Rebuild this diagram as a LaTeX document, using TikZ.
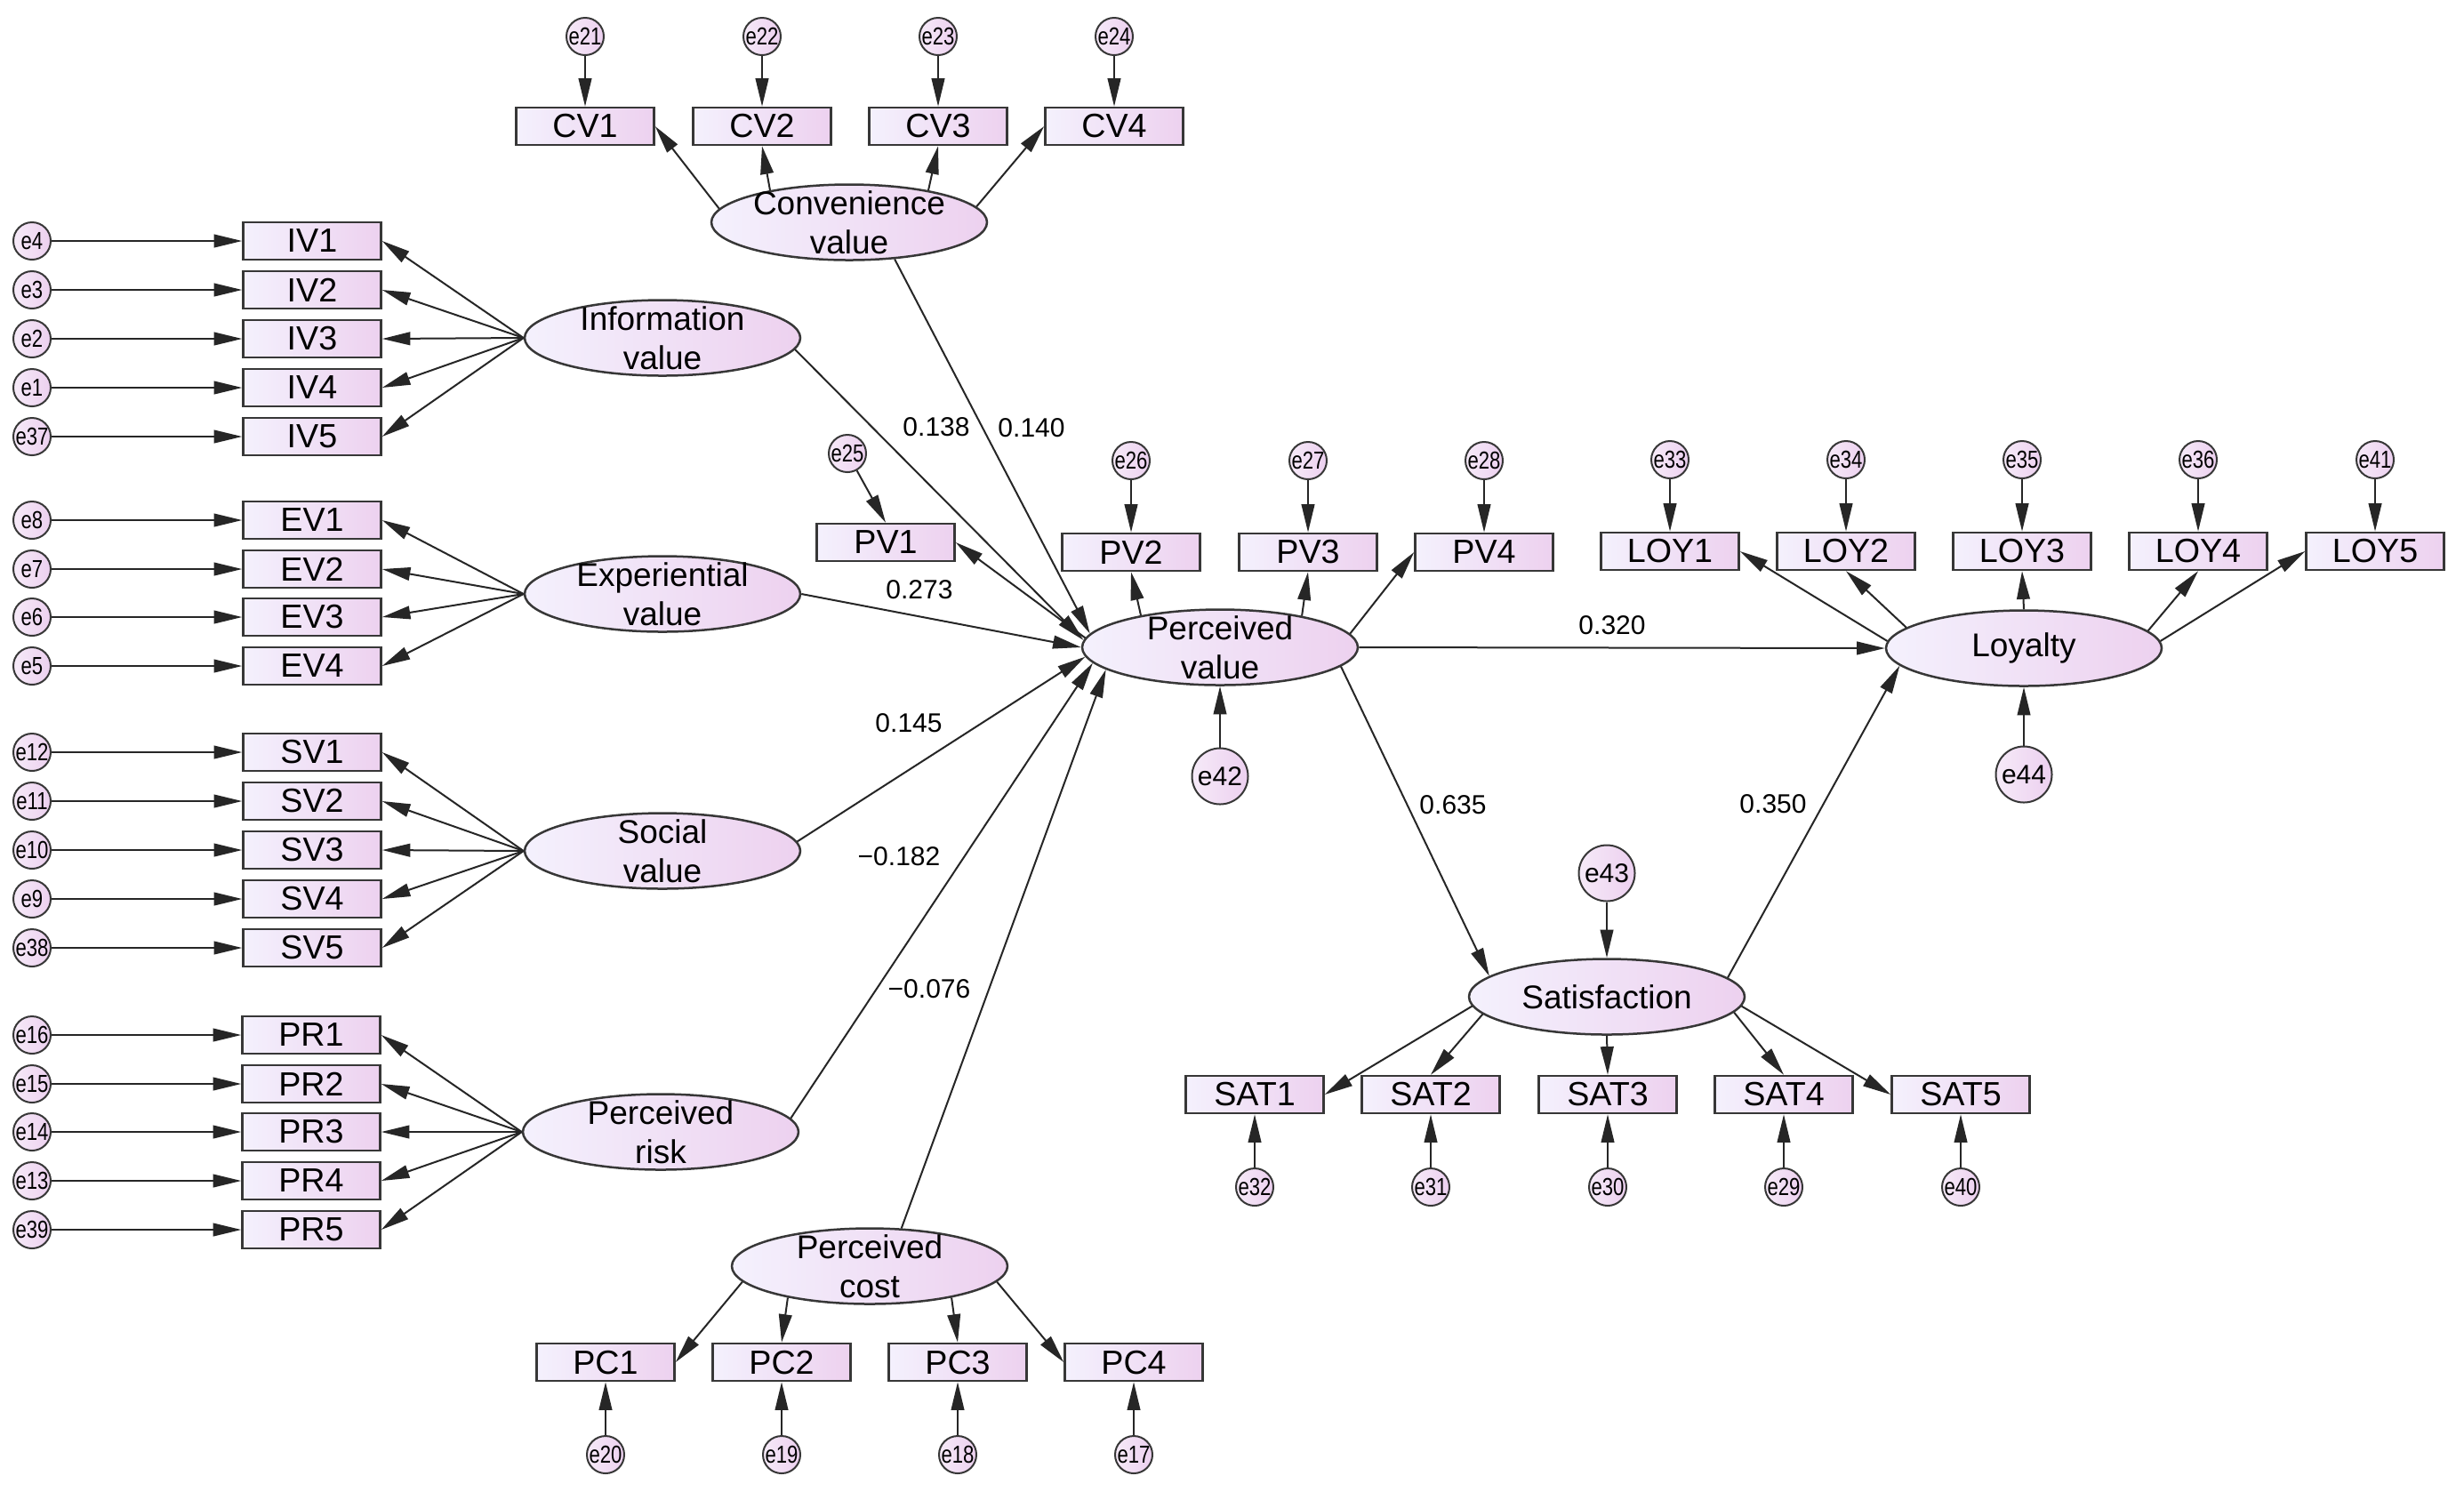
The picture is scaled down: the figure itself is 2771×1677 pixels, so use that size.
\documentclass[tikz,border=0pt]{standalone}
\usepackage{fontspec}
\setmainfont{Liberation Sans}
\usetikzlibrary{arrows.meta,shapes.geometric}
\definecolor{gl}{RGB}{244,241,253}
\definecolor{gr}{RGB}{237,209,239}
\definecolor{el}{RGB}{246,234,248}
\definecolor{er}{RGB}{236,208,239}
\definecolor{bd}{RGB}{55,55,55}
\newcommand\errtxt[1]{\scalebox{0.8}[1]{#1}}
\begin{document}
\begin{tikzpicture}[x=0.3pt,y=-0.3pt,
  obs/.style={draw=bd,line width=0.75pt,left color=gl,right color=gr,minimum width=46.5pt,minimum height=12.6pt,inner sep=0pt,font=\fontsize{11.3}{13}\selectfont},
  lat/.style={ellipse,draw=bd,line width=0.75pt,left color=gl,right color=gr,minimum width=93pt,minimum height=25.5pt,inner sep=0pt},
  lattext/.style={align=center,inner sep=0pt,font=\fontsize{11.1}{13.2}\selectfont},
  err/.style={circle,draw=bd,line width=0.6pt,left color=el,right color=er,minimum size=12.6pt,inner sep=0pt,font=\fontsize{8.3}{9}\selectfont},
  bigerr/.style={circle,draw=bd,line width=0.6pt,left color=el,right color=er,minimum size=18.9pt,inner sep=0pt,font=\fontsize{9}{10}\selectfont},
  lbl/.style={inner sep=0pt,font=\fontsize{9}{10}\selectfont},
  arr/.style={-{Triangle[length=9.5pt,width=4.4pt]},line width=0.6pt,draw=black!85},
]
\fill[white] (0,0) rectangle (2771,1677);
\useasboundingbox (0,0) rectangle (2771,1677);

% latent variables
\node[lat,label={[lattext]center:Convenience\\value}] (conv) at (955,250) {};
\node[lat,label={[lattext]center:Information\\value}] (info) at (745,380) {};
\node[lat,label={[lattext]center:Experiential\\value}] (exp) at (745,668) {};
\node[lat,label={[lattext]center:Social\\value}] (soc) at (745,957) {};
\node[lat,label={[lattext]center:Perceived\\risk}] (risk) at (743,1273) {};
\node[lat,label={[lattext]center:Perceived\\cost}] (cost) at (978,1424) {};
\node[lat,label={[lattext]center:Perceived\\value}] (pv) at (1372,728) {};
\node[lat,label={[lattext]center:Loyalty}] (loy) at (2276,729) {};
\node[lat,label={[lattext]center:Satisfaction}] (sat) at (1807,1121) {};

% Information value
\foreach \n/\y/\e in {1/271/4,2/326/3,3/381/2,4/436/1,5/491/37} {
  \node[obs] (iv\n) at (351,\y) {IV\n};
  \node[err] (e\e) at (36,\y) {\errtxt{e\e}};
  \draw[arr] (e\e) -- (iv\n);
  \draw[arr] (info.west) -- (iv\n.east);
}
% Experiential value
\foreach \n/\y/\e in {1/585/8,2/640/7,3/694/6,4/749/5} {
  \node[obs] (ev\n) at (351,\y) {EV\n};
  \node[err] (e\e) at (36,\y) {\errtxt{e\e}};
  \draw[arr] (e\e) -- (ev\n);
  \draw[arr] (exp.west) -- (ev\n.east);
}
% Social value
\foreach \n/\y/\e in {1/846/12,2/901/11,3/956/10,4/1011/9,5/1066/38} {
  \node[obs] (sv\n) at (351,\y) {SV\n};
  \node[err] (e\e) at (36,\y) {\errtxt{e\e}};
  \draw[arr] (e\e) -- (sv\n);
  \draw[arr] (soc.west) -- (sv\n.east);
}
% Perceived risk
\foreach \n/\y/\e in {1/1164/16,2/1219/15,3/1273/14,4/1328/13,5/1383/39} {
  \node[obs] (pr\n) at (350,\y) {PR\n};
  \node[err] (e\e) at (36,\y) {\errtxt{e\e}};
  \draw[arr] (e\e) -- (pr\n);
  \draw[arr] (risk.west) -- (pr\n.east);
}
% Convenience value
\foreach \n/\x/\e in {1/658/21,2/857/22,3/1055/23,4/1253/24} {
  \node[obs] (cv\n) at (\x,142) {CV\n};
  \node[err] (e\e) at (\x,41) {\errtxt{e\e}};
  \draw[arr] (e\e) -- (cv\n);
}
\draw[arr] (conv.174) -- (cv1.east);
\draw[arr] (conv.158) -- (cv2.south);
\draw[arr] (conv.22) -- (cv3.south);
\draw[arr] (conv.7) -- (cv4.west);

% Perceived cost
\foreach \n/\x/\e in {1/681/20,2/879/19,3/1077/18,4/1275/17} {
  \node[obs] (pc\n) at (\x,1532) {PC\n};
  \node[err] (e\e) at (\x,1636) {\errtxt{e\e}};
  \draw[arr] (e\e) -- (pc\n);
}
\draw[arr] (cost.187) -- (pc1.east);
\draw[arr] (cost.201.6) -- (pc2.north);
\draw[arr] (cost.-21.6) -- (pc3.north);
\draw[arr] (cost.-7) -- (pc4.west);

% Perceived value
\node[obs] (pv1) at (996,610) {PV1};
\node[err] (e25) at (953,510) {\errtxt{e25}};
\draw[arr] (e25) -- (pv1.north);
\foreach \n/\x/\e in {2/1272/26,3/1471/27,4/1669/28} {
  \node[obs] (pv\n) at (\x,621) {PV\n};
  \node[err] (e\e) at (\x,518) {\errtxt{e\e}};
  \draw[arr] (e\e) -- (pv\n);
}
\draw[arr] (pv.176) -- (pv1.east);
\draw[arr] (pv.158) -- (pv2.south);
\draw[arr] (pv.21) -- (pv3.south);
\draw[arr] (pv.6) -- (pv4.west);
\node[bigerr] (e42) at (1372,873) {e42};
\draw[arr] (e42) -- (pv.south);

% Loyalty
\foreach \n/\x/\e in {1/1878/33,2/2076/34,3/2274/35,4/2472/36,5/2671/41} {
  \node[obs] (loy\n) at (\x,620) {LOY\n};
  \node[err] (e\e) at (\x,517) {\errtxt{e\e}};
  \draw[arr] (e\e) -- (loy\n);
}
\draw[arr] (loy.177) -- (loy1.east);
\draw[arr] (loy.170) -- (loy2.south);
\draw[arr] (loy.north) -- (loy3.south);
\draw[arr] (loy.8) -- (loy4.south);
\draw[arr] (loy.3) -- (loy5.west);
\node[bigerr] (e44) at (2276,871) {e44};
\draw[arr] (e44) -- (loy.south);

% Satisfaction
\foreach \n/\x/\e in {1/1411/32,2/1609/31,3/1808/30,4/2006/29,5/2205/40} {
  \node[obs] (sat\n) at (\x,1231) {SAT\n};
  \node[err] (e\e) at (\x,1335) {\errtxt{e\e}};
  \draw[arr] (e\e) -- (sat\n);
}
\draw[arr] (sat.184) -- (sat1.east);
\draw[arr] (sat.188) -- (sat2.north);
\draw[arr] (sat.south) -- (sat3.north);
\draw[arr] (sat.-7) -- (sat4.north);
\draw[arr] (sat.-4) -- (sat5.west);
\node[bigerr] (e43) at (1807,982) {e43};
\draw[arr] (e43) -- (sat.north);

% structural paths
\draw[arr] (conv.-39) -- (pv.174.5);
\draw[arr] (info.-5) -- (pv.177.5);
\draw[arr] (exp.east) -- (pv.180);
\draw[arr] (soc.4) -- (pv.184);
\draw[arr] (risk.6) -- (pv.187.5);
\draw[arr] (cost.50) -- (pv.191);
\draw[arr] (pv.east) -- (loy.west);
\draw[arr] (pv.-9) -- (sat.170);
\draw[arr] (sat.9) -- (loy.188);

% path coefficients
\node[lbl] (c1) at (1053,480) {0.138};
\node[lbl] (c2) at (1160,481) {0.140};
\node[lbl] (c3) at (1034,663) {0.273};
\node[lbl] (c4) at (1022,813) {0.145};
\node[lbl] (c5) at (1011,963) {−0.182};
\node[lbl] (c6) at (1045,1112) {−0.076};
\node[lbl] (c7) at (1634,905) {0.635};
\node[lbl] (c8) at (1813,703) {0.320};
\node[lbl] (c9) at (1994,904) {0.350};
\end{tikzpicture}
\end{document}
